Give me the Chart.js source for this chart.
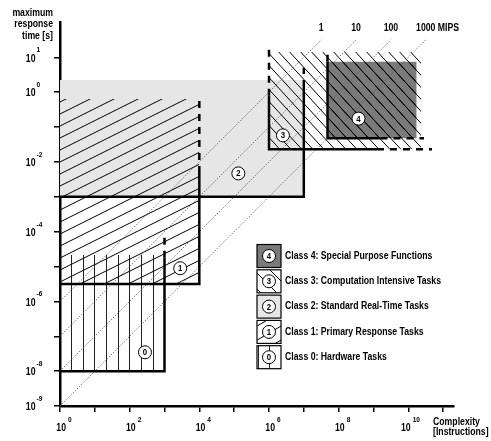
<!DOCTYPE html>
<html>
<head>
<meta charset="utf-8">
<script src="https://cdn.jsdelivr.net/npm/chart.js@4.4.0/dist/chart.umd.min.js"></script>
<style>
  html, body { margin: 0; padding: 0; background: #fff; }
  #wrap { width: 491px; height: 441px; position: relative; }
</style>
</head>
<body>
<div id="wrap"><canvas id="chart"></canvas></div>
<script>
// Axis ticks (powers of ten)
const xTickExps = [0, 1, 2, 3, 4, 5, 6, 7, 8, 9, 10, 11];
const xLabelExps = [0, 2, 4, 6, 8, 10];
const yTickExps = [-9, -8, -7, -6, -5, -4, -3, -2, -1, 0, 1];
const yLabelExps = [1, 0, -2, -4, -6, -8, -9];

// Class markers (circled numbers) in the plot
const classIds = ['0', '1', '2', '3', '4'];
const circleX = [10 ** 2.44, 10 ** 3.45, 10 ** 5.12, 10 ** 6.4, 10 ** 8.57];
const circleY = [10 ** -7.46, 10 ** -5.05, 10 ** -2.33, 10 ** -1.24, 10 ** -0.76];

// Legend
const legendIds = ['4', '3', '2', '1', '0'];
const legendNames = [
    'Class 4: Special Purpose Functions',
    'Class 3: Computation Intensive Tasks',
    'Class 2: Standard Real-Time Tasks',
    'Class 1: Primary Response Tasks',
    'Class 0: Hardware Tasks'
];

// Areas: [xMin, xMax, yMin, yMax]
const class2Area = [1, 1e7, 1e-3, 10 ** 0.35];
const class4Area = [10 ** 7.68, 10 ** 10.24, 10 ** -1.32, 10 ** 0.87];
const class0Hatch = [1, 1e3, 1e-8, 10 ** -4.67];
const class1Hatch = [1, 1e4, 10 ** -5.5, 10 ** -0.2];
const class3Hatch = [1e6, 10 ** 10.37, 10 ** -1.64, 10 ** 1.15];

// Class boundaries (solid part, then fuzzy dashed part)
const solidBorders = [
    [[1, 1e-8], [1e3, 1e-8], [1e3, 10 ** -4.75]],
    [[1, 10 ** -5.5], [1e4, 10 ** -5.5], [1e4, 10 ** -2.32]],
    [[1, 1e-3], [1e7, 1e-3], [1e7, 10 ** 0.15]],
    [[1e6, 10 ** -0.1], [1e6, 10 ** -1.64], [10 ** 9.1, 10 ** -1.64]],
    [[10 ** 7.68, 10 ** 0.87], [10 ** 7.68, 10 ** -1.32], [10 ** 9.2, 10 ** -1.32]]
];
const dashedBorders = [
    [[1e3, 10 ** -4.75], [1e3, 10 ** -4.05]],
    [[1e4, 10 ** -2.32], [1e4, 10 ** -0.08]],
    [[1e7, 10 ** 0.15], [1e7, 10 ** 0.7]],
    [[1e6, 10 ** -0.1], [1e6, 10 ** 1.35]],
    [[10 ** 9.1, 10 ** -1.64], [10 ** 10.68, 10 ** -1.64]],
    [[10 ** 7.68, 10 ** 0.87], [10 ** 7.68, 10 ** 1.2]],
    [[10 ** 9.2, 10 ** -1.32], [10 ** 10.45, 10 ** -1.32]]
];

// Processor speed lines
const mipsLabels = ['1', '10', '100', '1000'];
const mipsStart = [[1, 1e-6], [1, 1e-7], [1, 1e-8], [1, 1e-9]];
const mipsEnd = [[10 ** 7.5, 10 ** 1.5], [10 ** 8.5, 10 ** 1.5], [10 ** 9.5, 10 ** 1.5], [10 ** 10.5, 10 ** 1.5]];

const LIGHT = '#e6e6e6';
const DARK = '#7a7a7a';
const SX = 0.87; // narrow font look
const FONT = '"Liberation Sans", Arial, sans-serif';

// Hatch patterns
function makePattern(w, h, draw) {
    const c = document.createElement('canvas');
    c.width = w;
    c.height = h;
    const g = c.getContext('2d');
    draw(g, w, h);
    return g.createPattern(c, 'repeat');
}
function slashLines(g, w, h) {
    g.strokeStyle = '#000';
    g.lineWidth = 1;
    for (const k of [-1, 0, 1]) {
        g.beginPath();
        g.moveTo(-w, 2 * h + k * h);
        g.lineTo(2 * w, -h + k * h);
        g.stroke();
    }
}
function backslashLines(g, w, h) {
    g.strokeStyle = '#000';
    g.lineWidth = 1;
    for (const k of [-1, 0, 1]) {
        g.beginPath();
        g.moveTo(-w, -h + k * h);
        g.lineTo(2 * w, 2 * h + k * h);
        g.stroke();
    }
}
const slashPattern = makePattern(24, 12, slashLines);
const backslashPattern = makePattern(11, 12, backslashLines);
// class 4 sits under the class 3 hatch
const darkHatchPattern = makePattern(11, 12, (g, w, h) => {
    g.fillStyle = DARK;
    g.fillRect(0, 0, w, h);
    backslashLines(g, w, h);
});
const verticalPattern = makePattern(35, 2, (g) => {
    g.fillStyle = '#222';
    [1, 13, 24].forEach(x => g.fillRect(x, 0, 1, 2));
});
// sparser ones for the legend boxes
const legendSlash = makePattern(24, 14, slashLines);
const legendBackslash = makePattern(16, 16, backslashLines);

const toPts = arr => arr.map(p => ({ x: p[0], y: p[1] }));

function areaDataset(a, color, order) {
    return {
        data: [{ x: a[0], y: a[3] }, { x: a[1], y: a[3] }],
        fill: { value: a[2] },
        backgroundColor: color,
        borderWidth: 0,
        borderColor: 'rgba(0,0,0,0)',
        pointRadius: 0,
        order
    };
}

const datasets = [];
// circles on top
datasets.push({
    data: circleX.map((x, i) => ({ x, y: circleY[i] })),
    showLine: false,
    pointRadius: 6.5,
    pointBackgroundColor: '#fff',
    pointBorderColor: '#000',
    pointBorderWidth: 1,
    order: 0
});
solidBorders.forEach(b => datasets.push({
    data: toPts(b), borderColor: '#000', borderWidth: 2.5, pointRadius: 0,
    fill: false, borderCapStyle: 'butt', borderJoinStyle: 'miter', order: 1
}));
dashedBorders.forEach(b => datasets.push({
    data: toPts(b), borderColor: '#000', borderWidth: 2.5, pointRadius: 0,
    fill: false, borderDash: [7, 6], borderCapStyle: 'butt', order: 1
}));
mipsStart.forEach((s, i) => datasets.push({
    data: toPts([s, mipsEnd[i]]), borderColor: '#555', borderWidth: 0.8,
    borderDash: [1.5, 1.5], pointRadius: 0, fill: false, order: 2
}));
datasets.push(areaDataset(class3Hatch, backslashPattern, 3));
datasets.push(areaDataset(class1Hatch, slashPattern, 4));
datasets.push(areaDataset(class0Hatch, verticalPattern, 5));
datasets.push(areaDataset(class4Area, darkHatchPattern, 6));
datasets.push(areaDataset(class2Area, LIGHT, 7));

const mipsStartIndex = 1 + solidBorders.length + dashedBorders.length;

function txt(ctx, s, x, y, size, align) {
    ctx.save();
    ctx.font = 'bold ' + size + 'px ' + FONT;
    ctx.textAlign = align || 'left';
    ctx.textBaseline = 'middle';
    ctx.fillStyle = '#000';
    ctx.translate(x, y);
    ctx.scale(SX, 1);
    ctx.fillText(s, 0, 0);
    ctx.restore();
}
function txtW(ctx, s, size) {
    ctx.save();
    ctx.font = 'bold ' + size + 'px ' + FONT;
    const w = ctx.measureText(s).width * SX;
    ctx.restore();
    return w;
}
function circleMark(ctx, x, y, id) {
    ctx.save();
    ctx.beginPath();
    ctx.arc(x, y, 6.5, 0, Math.PI * 2);
    ctx.fillStyle = '#fff';
    ctx.fill();
    ctx.lineWidth = 1;
    ctx.strokeStyle = '#000';
    ctx.stroke();
    ctx.restore();
    txt(ctx, id, x, y + 0.5, 9, 'center');
}

const decorPlugin = {
    id: 'decor',
    afterDatasetsDraw(chart) {
        const ctx = chart.ctx;
        // numbers in circles
        const meta = chart.getDatasetMeta(0);
        meta.data.forEach((pt, i) => txt(ctx, classIds[i], pt.x, pt.y + 0.5, 9, 'center'));
        // MIPS labels at the end of the speed lines
        mipsLabels.forEach((lab, i) => {
            const m = chart.getDatasetMeta(mipsStartIndex + i);
            const end = m.data[1];
            if (i === mipsLabels.length - 1) {
                const w = txtW(ctx, lab, 10);
                txt(ctx, lab + ' MIPS', end.x - w / 2, end.y - 12, 10, 'left');
            } else {
                txt(ctx, lab, end.x, end.y - 12, 10, 'center');
            }
        });
    },
    afterDraw(chart) {
        const ctx = chart.ctx;
        const xs = chart.scales.x;
        const ys = chart.scales.y;
        // y tick labels
        yLabelExps.forEach(e => {
            const py = ys.getPixelForValue(10 ** e);
            txt(ctx, '10', 35.5, py + 1.5, 10, 'right');
            txt(ctx, String(e), 36.5, py - 7, 7.5, 'left');
        });
        // x tick labels
        const oneDigit = txtW(ctx, '0', 7.5);
        xLabelExps.forEach(e => {
            const px = xs.getPixelForValue(10 ** e);
            const ew = txtW(ctx, String(e), 7.5);
            const right = px + 6 - (ew - oneDigit);
            txt(ctx, '10', right, xs.top + 22, 10, 'right');
            txt(ctx, String(e), right + 2, xs.top + 14, 7.5, 'left');
        });
        // axis titles
        txt(ctx, 'Complexity', 433, 422.5, 10, 'left');
        txt(ctx, '[Instructions]', 433, 432.5, 10, 'left');
        txt(ctx, 'maximum', 53, 13, 10, 'right');
        txt(ctx, 'response', 53, 24.5, 10, 'right');
        txt(ctx, 'time [s]', 53, 36, 10, 'right');
        // legend
        const fills = { '4': DARK, '3': legendBackslash, '2': LIGHT, '1': legendSlash, '0': verticalPattern };
        legendIds.forEach((id, i) => {
            const top = 244.5 + i * 25.3;
            const left = 257;
            ctx.save();
            ctx.fillStyle = '#fff';
            ctx.fillRect(left, top, 24, 23);
            ctx.fillStyle = fills[id];
            ctx.fillRect(left, top, 24, 23);
            ctx.lineWidth = 1.2;
            ctx.strokeStyle = '#000';
            ctx.strokeRect(left, top, 24, 23);
            ctx.restore();
            circleMark(ctx, left + 12, top + 11.5, id);
            txt(ctx, legendNames[i], 285, top + 11.5, 10, 'left');
        });
    }
};

new Chart(document.getElementById('chart'), {
    type: 'line',
    data: { datasets },
    options: {
        responsive: true,
        maintainAspectRatio: false,
        animation: false,
        events: [],
        layout: { padding: { left: 0, right: 37.4, top: 22.4, bottom: 0 } },
        plugins: {
            legend: { display: false },
            tooltip: { enabled: false }
        },
        scales: {
            x: {
                type: 'logarithmic',
                min: 1,
                max: 10 ** 11.3,
                afterBuildTicks: scale => {
                    scale.ticks = xTickExps.map(e => ({ value: 10 ** e }));
                },
                afterFit: scale => { scale.height = 35; },
                ticks: { display: false },
                grid: { drawOnChartArea: false, drawTicks: true, tickLength: 6, color: '#000', lineWidth: 1.5 },
                border: { display: true, color: '#000', width: 2.5 }
            },
            y: {
                type: 'logarithmic',
                min: 1e-9,
                max: 1e2,
                afterBuildTicks: scale => {
                    scale.ticks = yTickExps.map(e => ({ value: 10 ** e }));
                },
                afterFit: scale => { scale.width = 60; },
                ticks: { display: false },
                grid: { drawOnChartArea: false, drawTicks: true, tickLength: 6, color: '#000', lineWidth: 1.5 },
                border: { display: true, color: '#000', width: 2.5 }
            }
        }
    },
    plugins: [decorPlugin]
});
</script>
</body>
</html>
